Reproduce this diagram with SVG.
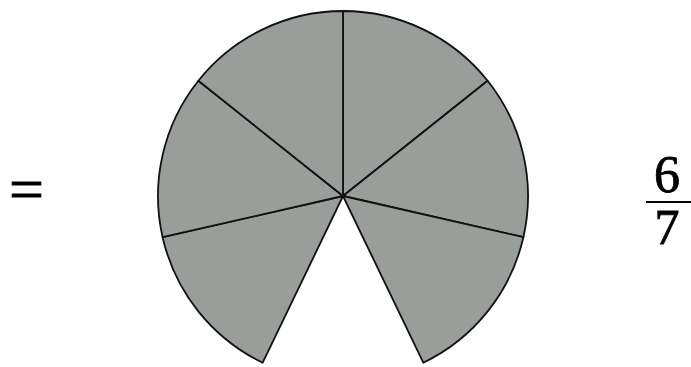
<svg xmlns="http://www.w3.org/2000/svg" width="691" height="367" viewBox="0 0 691 367">
<style>
.sec{fill:#9a9e9a;stroke:#111;stroke-width:1.8;stroke-linejoin:round}
.t{font-family:"Liberation Serif","Times New Roman",serif;fill:#000;stroke:#000;stroke-width:0.8}
</style>
<rect width="691" height="367" fill="#fff"/>
<g id="equals"><text class="t" x="9" y="210" font-size="62">=</text></g>
<g id="pie">
<path class="sec" d="M343,196 L343,11 A185,185 0 0 1 487.6,80.7 Z"/>
<path class="sec" d="M343,196 L487.6,80.7 A185,185 0 0 1 523.4,237.2 Z"/>
<path class="sec" d="M343,196 L523.4,237.2 A185,185 0 0 1 423.3,362.7 Z"/>
<path class="sec" d="M343,196 L262.7,362.7 A185,185 0 0 1 162.6,237.2 Z" stroke-width="2.6"/>
<path class="sec" d="M343,196 L162.6,237.2 A185,185 0 0 1 198.4,80.7 Z" stroke-width="2.3"/>
<path class="sec" d="M343,196 L198.4,80.7 A185,185 0 0 1 343,11 Z"/>
</g>
<g id="fraction">
<text class="t" x="667" y="192" font-size="52" text-anchor="middle">6</text>
<line x1="646" y1="202" x2="691" y2="202" stroke="#000" stroke-width="2"/>
<text class="t" x="667" y="244" font-size="50" text-anchor="middle">7</text>
</g>
</svg>
